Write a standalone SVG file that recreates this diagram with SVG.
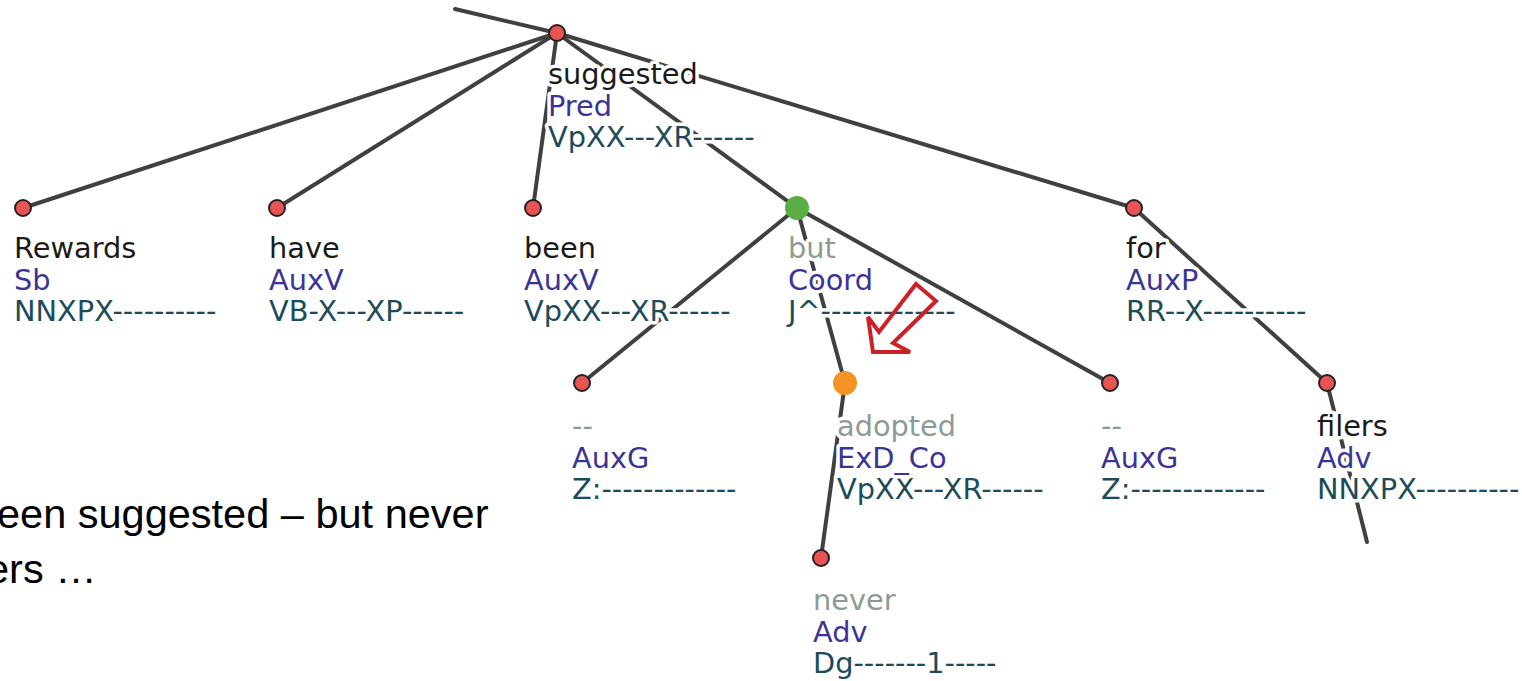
<svg xmlns="http://www.w3.org/2000/svg" width="1522" height="681" viewBox="0 0 1522 681">
<style>
.e{stroke:#404040;stroke-width:4;fill:none;stroke-linecap:round}
.n{fill:#e85454;stroke:#222;stroke-width:2}
text{font-family:"DejaVu Sans",Verdana,sans-serif;font-size:28.8px;stroke:#fff;stroke-width:7;stroke-linejoin:round;paint-order:stroke}
.w{fill:#1a1a1a}
.g{fill:#8e9a94}
.a{fill:#3b3496}
.t{fill:#1c4b5a}
.s{font-family:"Liberation Sans",Arial,sans-serif;font-size:41.5px;fill:#000;stroke:none}
</style>
<g id="connectors">
<line class="e" x1="455" y1="9" x2="557" y2="33"/>
<line class="e" x1="557" y1="33" x2="23" y2="208"/>
<line class="e" x1="557" y1="33" x2="277" y2="208"/>
<line class="e" x1="557" y1="33" x2="533" y2="208"/>
<line class="e" x1="557" y1="33" x2="797" y2="208"/>
<line class="e" x1="557" y1="33" x2="1134" y2="208"/>
<line class="e" x1="797" y1="208" x2="582" y2="383"/>
<line class="e" x1="797" y1="208" x2="845" y2="383"/>
<line class="e" x1="797" y1="208" x2="1110" y2="383"/>
<line class="e" x1="1134" y1="208" x2="1327" y2="383"/>
<line class="e" x1="845" y1="383" x2="821" y2="558"/>
<line class="e" x1="1327" y1="383" x2="1367" y2="542"/>
</g>
<g id="n-suggested">
<circle class="n" cx="557" cy="33" r="8"/>
<text x="548" y="84" class="w">suggested</text>
<text x="548" y="116" class="a">Pred</text>
<text x="548" y="147" class="t">VpXX---XR------</text>
</g>
<g id="n-rewards">
<circle class="n" cx="23" cy="208" r="8"/>
<text x="14" y="258" class="w">Rewards</text>
<text x="14" y="290" class="a">Sb</text>
<text x="14" y="321" class="t">NNXPX----------</text>
</g>
<g id="n-have">
<circle class="n" cx="277" cy="208" r="8"/>
<text x="269" y="258" class="w">have</text>
<text x="269" y="290" class="a">AuxV</text>
<text x="269" y="321" class="t">VB-X---XP------</text>
</g>
<g id="n-been">
<circle class="n" cx="533" cy="208" r="8"/>
<text x="524" y="258" class="w">been</text>
<text x="524" y="290" class="a">AuxV</text>
<text x="524" y="321" class="t">VpXX---XR------</text>
</g>
<g id="n-but">
<circle cx="797" cy="208" r="12" fill="#5aad45"/>
<text x="788" y="258" class="g">but</text>
<text x="788" y="290" class="a">Coord</text>
<text x="788" y="321" class="t">J^-------------</text>
</g>
<g id="n-for">
<circle class="n" cx="1134" cy="208" r="8"/>
<text x="1126" y="258" class="w">for</text>
<text x="1126" y="290" class="a">AuxP</text>
<text x="1126" y="321" class="t">RR--X----------</text>
</g>
<g id="n-dash1">
<circle class="n" cx="582" cy="383" r="8"/>
<text x="572" y="436" class="g">--</text>
<text x="572" y="468" class="a">AuxG</text>
<text x="572" y="499" class="t">Z:-------------</text>
</g>
<g id="n-adopted">
<circle cx="845" cy="383" r="12" fill="#f39325"/>
<text x="837" y="436" class="g">adopted</text>
<text x="837" y="499" class="t">VpXX---XR------</text>
<text x="837" y="468" class="a">ExD_Co</text>
</g>
<g id="n-dash2">
<circle class="n" cx="1110" cy="383" r="8"/>
<text x="1101" y="436" class="g">--</text>
<text x="1101" y="468" class="a">AuxG</text>
<text x="1101" y="499" class="t">Z:-------------</text>
</g>
<g id="n-filers">
<circle class="n" cx="1327" cy="383" r="8"/>
<text x="1317" y="436" class="w">filers</text>
<text x="1317" y="468" class="a">Adv</text>
<text x="1317" y="499" class="t">NNXPX----------</text>
</g>
<g id="n-never">
<circle class="n" cx="821" cy="558" r="8"/>
<text x="813" y="610" class="g">never</text>
<text x="813" y="642" class="a">Adv</text>
<text x="813" y="673" class="t">Dg-------1-----</text>
</g>
<g id="pointer">
<polygon points="916,284 936,301 893,343 910,352 873,352 868,317 879,332" fill="none" stroke="#cc2127" stroke-width="4" stroke-linejoin="miter"/>
</g>
<g id="caption">
<text class="s" x="-3" y="528">een suggested – but never</text>
<text class="s" x="-14" y="583">ers …</text>
</g>
</svg>
